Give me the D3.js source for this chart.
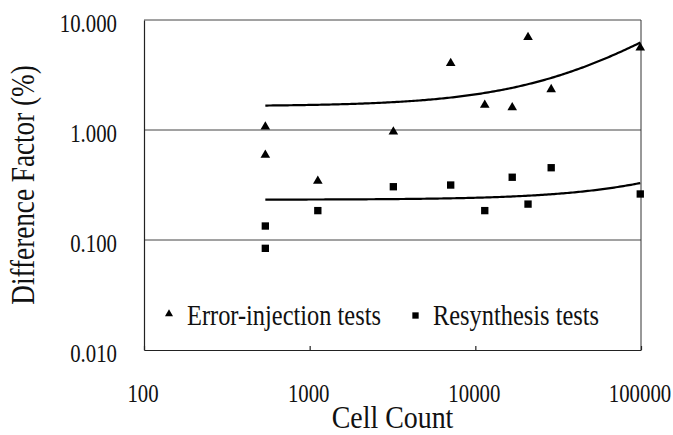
<!DOCTYPE html>
<html>
<head>
<meta charset="utf-8">
<script src="https://cdn.jsdelivr.net/npm/d3@7"></script>
<style>
  html, body { margin: 0; padding: 0; background: #fff; }
  svg { display: block; }
</style>
</head>
<body>
<svg id="chart" width="673" height="435"></svg>
<script>
// Cell counts of the benchmark circuits (shared by both test series)
const cellCounts = [540, 540, 1120, 3200, 7100, 11400, 16700, 20800, 28700, 99000];
// Difference factor (%) per circuit
const errorInjection = [1.07, 0.593, 0.344, 0.965, 4.04, 1.69, 1.60, 6.96, 2.34, 5.60];
const resynthesis    = [0.134, 0.084, 0.185, 0.305, 0.316, 0.185, 0.372, 0.212, 0.454, 0.262];

const xTicks = [100, 1000, 10000, 100000];
const yTicks = [0.01, 0.1, 1, 10];
const yTickLabels = ["0.010", "0.100", "1.000", "10.000"];
const seriesNames = ["Error-injection tests", "Resynthesis tests"];

const FONT = '"Liberation Serif", "Times New Roman", serif';
const svg = d3.select("#chart");
const plotL = 144, plotR = 641, plotT = 20, plotB = 350;
const SX = 0.8; // horizontal squeeze for the narrow serif lettering

const x = d3.scaleLog().domain([100, 100000]).range([plotL, plotR]);
const y = d3.scaleLog().domain([0.01, 10]).range([plotB, plotT]);

function label(sel) {
  return sel.style("font-family", FONT).attr("fill", "#111");
}

// Horizontal gridlines and plot frame
svg.append("g").selectAll("line")
  .data(yTicks.slice(1))
  .join("line")
  .attr("x1", plotL).attr("x2", plotR)
  .attr("y1", d => y(d)).attr("y2", d => y(d))
  .attr("stroke", "#444").attr("stroke-width", 1);

svg.append("line").attr("x1", plotR).attr("x2", plotR).attr("y1", plotT).attr("y2", plotB)
  .attr("stroke", "#333").attr("stroke-width", 1);

// Axes
const xAxis = d3.axisBottom(x).tickValues(xTicks).tickSizeInner(-4).tickSizeOuter(0).tickFormat("");
svg.append("g").attr("transform", `translate(0,${plotB})`).call(xAxis)
  .call(g => g.selectAll("path,line").attr("stroke", "#222").attr("stroke-width", 1.2));
const yAxis = d3.axisLeft(y).tickValues(yTicks).tickSize(0).tickFormat("");
svg.append("g").attr("transform", `translate(${plotL},0)`).call(yAxis)
  .call(g => g.selectAll("path").attr("stroke", "#222").attr("stroke-width", 1.2));

// Tick labels
svg.append("g").selectAll("text")
  .data(yTicks)
  .join("text")
  .call(label)
  .attr("transform", d => `translate(117,${y(d) + 12}) scale(${SX},1)`)
  .attr("text-anchor", "end")
  .attr("font-size", 26)
  .text((d, i) => yTickLabels[i]);

svg.append("g").selectAll("text")
  .data(xTicks)
  .join("text")
  .call(label)
  .attr("transform", d => `translate(${x(d) - 1},402) scale(${SX},1)`)
  .attr("text-anchor", "middle")
  .attr("font-size", 26)
  .text(d => String(d));

// Axis titles
svg.append("text").call(label)
  .attr("transform", `translate(${(plotL + plotR) / 2},428) scale(0.9,1)`)
  .attr("text-anchor", "middle").attr("font-size", 31)
  .text("Cell Count");
svg.append("text").call(label)
  .attr("transform", `translate(34,${(plotT + plotB) / 2}) rotate(-90) scale(${SX},1)`)
  .attr("text-anchor", "middle").attr("font-size", 34)
  .text("Difference Factor (%)");

// Least-squares linear trend of each series, drawn over the data range
function linearFit(xs, ys) {
  const mx = d3.mean(xs), my = d3.mean(ys);
  const sxy = d3.sum(xs, (v, i) => (v - mx) * (ys[i] - my));
  const sxx = d3.sum(xs, v => (v - mx) * (v - mx));
  const b = sxy / sxx;
  return { a: my - b * mx, b };
}
const [xmin, xmax] = d3.extent(cellCounts);
const samples = d3.range(0, 201).map(i => xmin * Math.pow(xmax / xmin, i / 200));
const line = d3.line().x(d => x(d[0])).y(d => y(d[1]));
[errorInjection, resynthesis].forEach(vals => {
  const f = linearFit(cellCounts, vals);
  svg.append("path")
    .datum(samples.map(v => [v, f.a + f.b * v]))
    .attr("d", line)
    .attr("fill", "none").attr("stroke", "#000").attr("stroke-width", 2.2);
});

// Markers
const tri = d3.symbol().type(d3.symbolTriangle).size(40);
const sq = d3.symbol().type(d3.symbolSquare).size(54);
svg.append("g").selectAll("path")
  .data(cellCounts.map((c, i) => [c, errorInjection[i]]))
  .join("path")
  .attr("d", tri)
  .attr("transform", d => `translate(${x(d[0])},${y(d[1])})`)
  .attr("fill", "#000");
svg.append("g").selectAll("path")
  .data(cellCounts.map((c, i) => [c, resynthesis[i]]))
  .join("path")
  .attr("d", sq)
  .attr("transform", d => `translate(${x(d[0])},${y(d[1])})`)
  .attr("fill", "#000");

// Legend
const legend = svg.append("g");
legend.append("path").attr("d", d3.symbol().type(d3.symbolTriangle).size(28)())
  .attr("transform", "translate(169,314)").attr("fill", "#000");
legend.append("text").call(label).attr("transform", `translate(187,325) scale(${SX},1)`)
  .attr("font-size", 30.5).text(seriesNames[0]);
legend.append("path").attr("d", d3.symbol().type(d3.symbolSquare).size(40)())
  .attr("transform", "translate(415.5,315.5)").attr("fill", "#000");
legend.append("text").call(label).attr("transform", `translate(433,325) scale(${SX},1)`)
  .attr("font-size", 30.5).text(seriesNames[1]);
</script>
</body>
</html>
